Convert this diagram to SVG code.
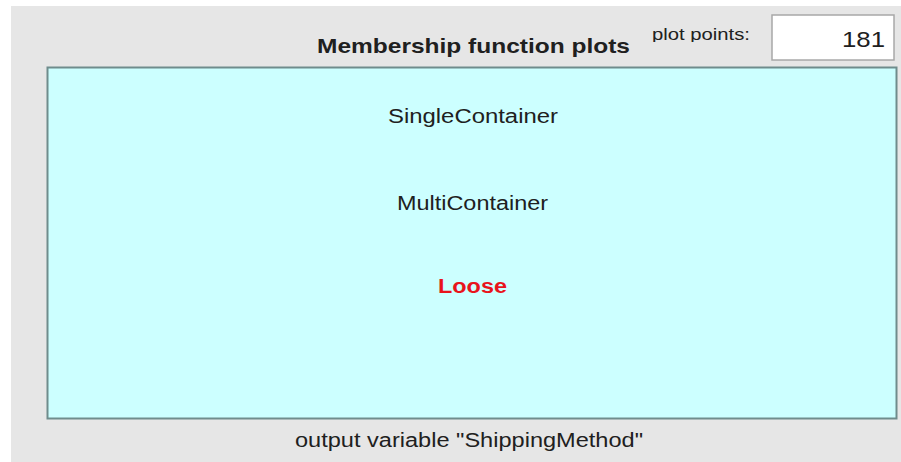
<svg xmlns="http://www.w3.org/2000/svg" width="901" height="462" viewBox="0 0 901 462">
  <style>
    .t { font-family: "Liberation Sans", Arial, sans-serif; fill: #202020; }
    .lbl { font-size: 20px; text-anchor: middle; }
  </style>
  <defs>
    <clipPath id="clipPP"><rect x="640" y="10" width="130" height="32"/></clipPath>
  </defs>
  <rect x="0" y="0" width="901" height="462" fill="#ffffff"/>
  <rect x="11" y="6" width="890" height="456" fill="#e6e6e6"/>

  <g id="title">
    <text class="t" x="473.5" y="53" font-size="21" font-weight="bold" text-anchor="middle" textLength="313" lengthAdjust="spacingAndGlyphs">Membership function plots</text>
  </g>

  <g id="plot-points">
    <text class="t" x="652" y="40" font-size="16" textLength="98" lengthAdjust="spacingAndGlyphs" clip-path="url(#clipPP)">plot points:</text>
    <rect x="772" y="15" width="122" height="45" fill="#ffffff" stroke="#a8a8a8" stroke-width="1.5"/>
    <text class="t" x="885" y="47" font-size="22" text-anchor="end" textLength="43" lengthAdjust="spacingAndGlyphs">181</text>
  </g>

  <g id="plot-area">
    <rect x="47.5" y="67.5" width="849" height="351" fill="#ccffff" stroke="#6f8c8c" stroke-width="2"/>
  </g>

  <g id="SingleContainer">
    <text class="t lbl" x="473" y="123" textLength="170" lengthAdjust="spacingAndGlyphs">SingleContainer</text>
  </g>
  <g id="MultiContainer">
    <text class="t lbl" x="472.5" y="210" textLength="151" lengthAdjust="spacingAndGlyphs">MultiContainer</text>
  </g>
  <g id="Loose">
    <text class="t lbl" x="472.5" y="293" font-weight="bold" style="fill:#e8141c" textLength="69" lengthAdjust="spacingAndGlyphs">Loose</text>
  </g>

  <g id="connectors"></g>

  <g id="footer">
    <text class="t lbl" x="469" y="447" textLength="348" lengthAdjust="spacingAndGlyphs">output variable "ShippingMethod"</text>
  </g>
</svg>
